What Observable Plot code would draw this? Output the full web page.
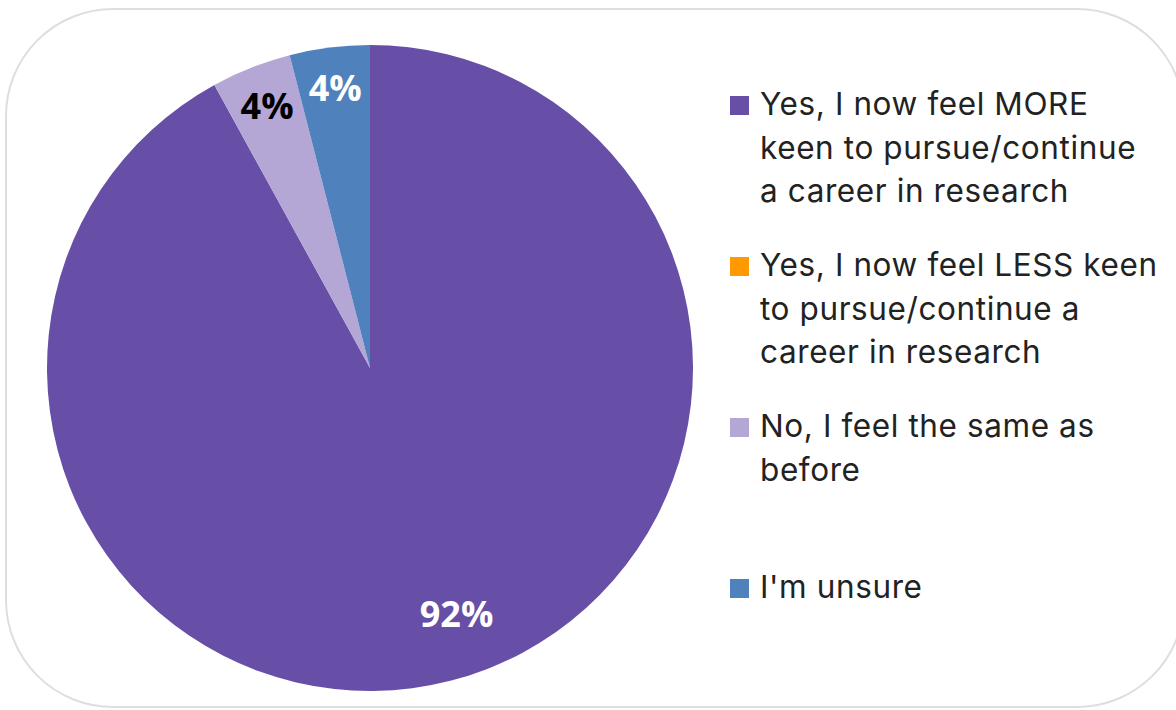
<!DOCTYPE html>
<html>
<head>
<meta charset="utf-8">
<script src="https://cdn.jsdelivr.net/npm/d3@7"></script>
<script src="https://cdn.jsdelivr.net/npm/@observablehq/plot@0.6"></script>
<style>
  html, body { margin: 0; padding: 0; background: #fff; }
  #wrap { position: relative; width: 1176px; height: 710px; overflow: hidden; background: #fff; }
  #card { position: absolute; left: 5px; top: 8px; width: 1180px; height: 700px; border: 2px solid #dedede; border-radius: 108px; box-sizing: border-box; }
  #chart { position: absolute; left: 0; top: 0; }
  #legend { position: absolute; left: 730px; top: 82px; font-family: Inter, "Noto Sans", sans-serif; font-size: 31.5px; letter-spacing: 0.6px; color: #222; }
  .item { position: relative; height: 161px; padding-left: 30px; line-height: 43.5px; white-space: nowrap; }
  .sw { position: absolute; left: 0; top: 14px; width: 19px; height: 19px; }
</style>
</head>
<body>
<div id="wrap">
  <div id="card"></div>
  <div id="chart"></div>
  <div id="legend"></div>
</div>
<script>
const categories = [
  "Yes, I now feel MORE keen to pursue/continue a career in research",
  "Yes, I now feel LESS keen to pursue/continue a career in research",
  "No, I feel the same as before",
  "I'm unsure"
];
const legendLines = [
  ["Yes, I now feel MORE", "keen to pursue/continue", "a career in research"],
  ["Yes, I now feel LESS keen", "to pursue/continue a", "career in research"],
  ["No, I feel the same as", "before"],
  ["I'm unsure"]
];
const values = [92, 0, 4, 4];
const colors = ["#674ea7", "#ff9900", "#b4a7d6", "#4f81bd"];
const labelColors = ["#ffffff", "#ffffff", "#000000", "#ffffff"];

const data = categories.map((c, i) => ({category: c, value: values[i], color: colors[i], labelColor: labelColors[i]}));
const arcs = d3.pie().sort(null).value(d => d.value)(data);

// label positions in unit (scale) coordinates
const labels = arcs.filter(a => a.data.value > 0).map(a => {
  const mid = (a.startAngle + a.endAngle) / 2;
  const rr = a.data.value > 50 ? 0.81 : 0.87;
  return {x: rr * Math.sin(mid), y: rr * Math.cos(mid), text: a.data.value + "%", fill: a.data.labelColor, big: a.data.value > 50};
});

function pieMark(index, scales) {
  const cx = scales.x(0), cy = scales.y(0);
  const r = scales.x(1) - scales.x(0);
  const g = d3.create("svg:g").attr("transform", `translate(${cx},${cy})`);
  const arcGen = d3.arc().innerRadius(0).outerRadius(r);
  g.selectAll("path").data(arcs.filter(a => a.data.value > 0)).join("path")
    .attr("d", arcGen).attr("fill", a => a.data.color);
  return g.node();
}

const font = "'Open Sans', 'DejaVu Sans', sans-serif";
const plot = Plot.plot({
  width: 740,
  height: 710,
  margin: 0,
  x: {domain: [-1, 1], range: [47, 693], axis: null},
  y: {domain: [-1, 1], range: [691, 45], axis: null},
  marks: [
    pieMark,
    Plot.text(labels.filter(d => !d.big), {x: "x", y: "y", text: "text", fill: "fill", fontSize: 36, fontWeight: "bold", fontFamily: font}),
    Plot.text(labels.filter(d => d.big), {x: "x", y: "y", text: "text", fill: "fill", dx: 21, dy: -6, fontSize: 36, fontWeight: "bold", fontFamily: font})
  ]
});
document.getElementById("chart").appendChild(plot);

const legend = d3.select("#legend");
categories.forEach((c, i) => {
  const it = legend.append("div").attr("class", "item");
  it.append("div").attr("class", "sw").style("background", colors[i]);
  legendLines[i].forEach(l => it.append("div").text(l));
});
</script>
</body>
</html>
